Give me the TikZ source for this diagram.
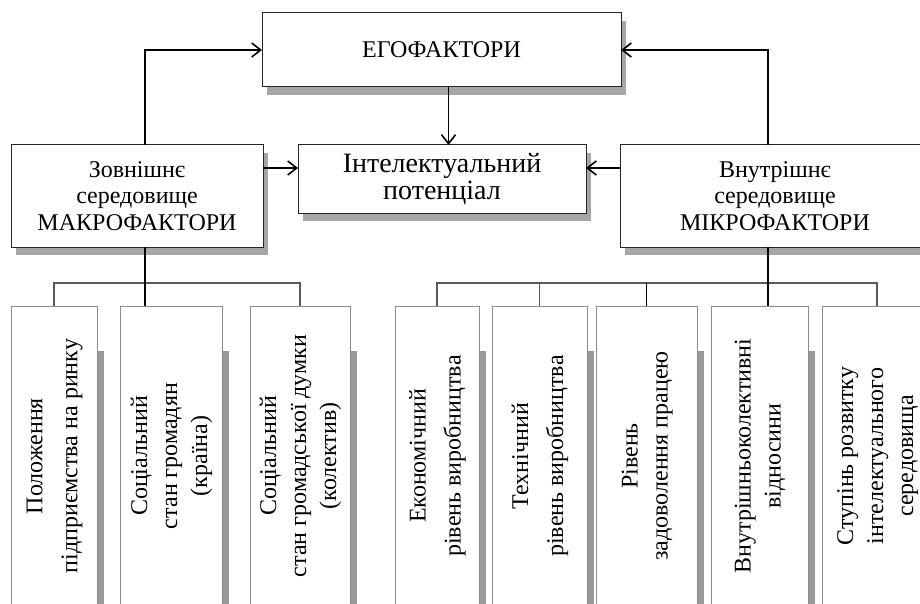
\documentclass[tikz,border=0pt]{standalone}
\usepackage{fontspec}
\setmainfont{Liberation Serif}
\usepackage{graphicx}
\usepackage{tikz}
\usetikzlibrary{arrows.meta,shadows}

\newcommand{\vlabel}[1]{\rotatebox{90}{\begin{tabular}{@{}c@{}}#1\end{tabular}}}

\begin{document}
\begin{tikzpicture}[x=1pt, y=-1pt, >={Straight Barb[length=9pt,width=14pt]},
    mainbox/.style={draw=black!85, line width=1pt, fill=white, inner sep=0pt, outer sep=0pt,
        align=center, font=\fontsize{24}{26.5}\selectfont,
        drop shadow={shadow xshift=5pt, shadow yshift=-8pt, fill=black!35, opacity=1}},
    factorbox/.style={draw=black!45, line width=0.6pt, fill=white, inner sep=0pt, outer sep=0pt,
        minimum height=300pt, font=\fontsize{24}{30}\selectfont,
        drop shadow={shadow xshift=7pt, shadow yshift=-45pt, fill=black!40, opacity=1}},
    conn/.style={line width=1.6pt},
    bus/.style={line width=1.4pt, black!65}]
    \useasboundingbox (0,0) rectangle (920,604);
    \fill[white] (0,0) rectangle (920,604);

    % upper level
    \node[mainbox, minimum width=359pt, minimum height=74pt] (ego) at (441.5,50) {ЕГОФАКТОРИ};
    \node[mainbox, minimum width=288pt, minimum height=68pt, font=\fontsize{28}{27}\selectfont] (intel) at (442,179) {Інтелектуальний\\потенціал};
    \node[mainbox, minimum width=252pt, minimum height=102pt] (zovn) at (137,196) {Зовнішнє\\середовище\\МАКРОФАКТОРИ};
    \node[mainbox, minimum width=310pt, minimum height=102pt] (mikro) at (775,196) {Внутрішнє\\середовище\\МІКРОФАКТОРИ};

    % factors
    \node[factorbox, minimum width=86pt] (b1) at (54,456) {\vlabel{Положення\\[5pt] підприємства на ринку}};
    \node[factorbox, minimum width=102pt] (b2) at (171,456) {\vlabel{Соціальний\\стан громадян\\(країна)}};
    \node[factorbox, minimum width=100pt] (b3) at (300,456) {\vlabel{Соціальний\\стан громадської думки\\(колектив)}};
    \node[factorbox, minimum width=84pt] (b4) at (437,456) {\vlabel{Економічний\\[5pt] рівень виробництва}};
    \node[factorbox, minimum width=95pt] (b5) at (539.5,456) {\vlabel{Технічний\\[5pt] рівень виробництва}};
    \node[factorbox, minimum width=101pt] (b6) at (646.5,456) {\vlabel{Рівень\\задоволення працею}};
    \node[factorbox, minimum width=97pt] (b7) at (759.5,456) {\vlabel{Внутрішньоколективні\\відносини}};
    \node[factorbox, minimum width=110pt] (b8) at (877,456) {\vlabel{Ступінь розвитку\\інтелектуального\\середовища}};

    \coordinate (lbus) at (145,283);
    \coordinate (rbus) at (768,283);
    \coordinate (la) at ([yshift=11pt]intel.west);
    \coordinate (ra) at ([yshift=11pt]intel.east);

    % arrows
    \draw[conn,->] (zovn.north -| lbus) |- (ego.west);
    \draw[conn,->] (mikro.north -| rbus) |- (ego.east);
    \draw[conn,->] ([xshift=7pt]ego.south) -- ([xshift=7pt]ego.south |- intel.north);
    \draw[conn,->] (zovn.east |- la) -- (la);
    \draw[conn,->] (mikro.west |- ra) -- (ra);

    % left bus
    \draw[bus] (b1.north) |- (lbus) -| (b3.north);
    \draw[conn] (zovn.south -| lbus) -- (lbus |- b2.north);

    % right bus
    \draw[bus] (b4.north) |- (b8.north |- rbus) -- (b8.north);
    \draw[bus] (b5.north) -- (b5.north |- rbus);
    \draw[conn] (b6.north) -- (b6.north |- rbus);
    \draw[conn] (mikro.south -| rbus) -- (rbus |- b7.north);
\end{tikzpicture}
\end{document}
